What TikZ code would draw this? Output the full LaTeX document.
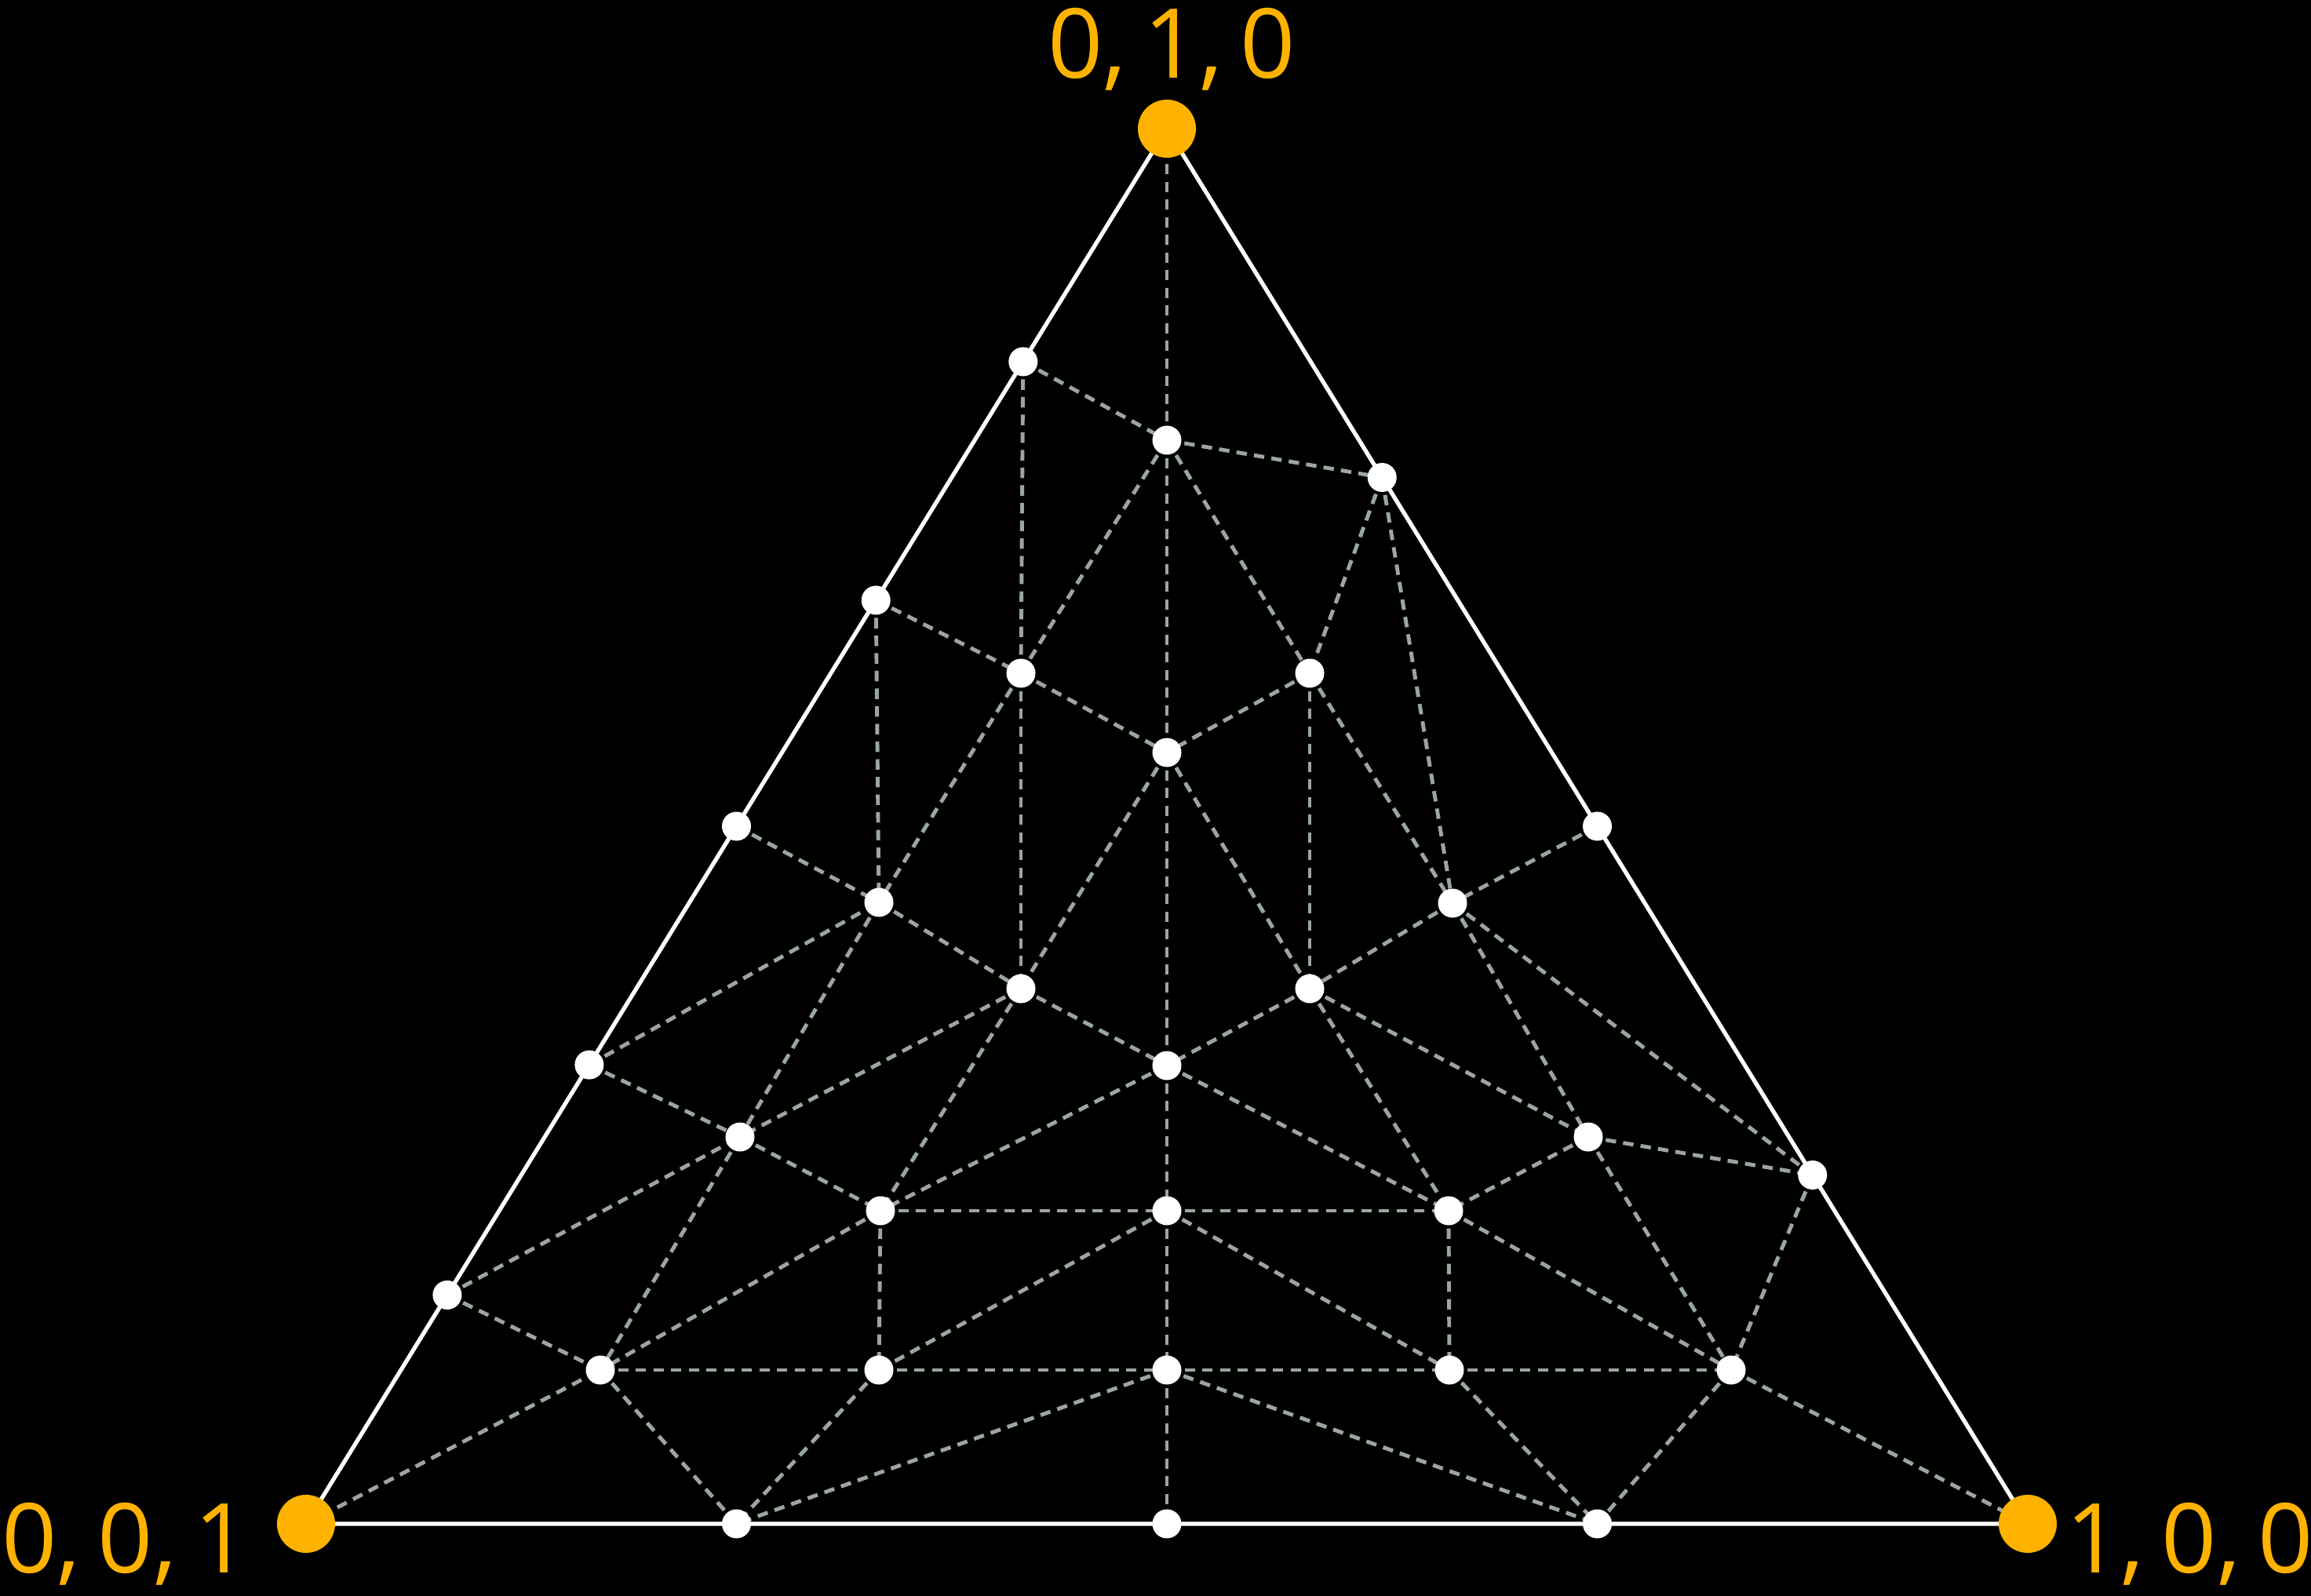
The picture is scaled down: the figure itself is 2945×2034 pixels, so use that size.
\documentclass[tikz,border=0pt]{standalone}
\usepackage{fontspec}
\setmainfont{Open Sans}
\usepackage{xcolor}
\usetikzlibrary{calc}
\definecolor{myorange}{RGB}{255,179,0}
\definecolor{mygray}{RGB}{155,165,165}

\tikzset{
  side/.style={draw=white, line width=1.5pt},
  mesh/.style={draw=mygray, line width=1.4pt, dash pattern=on 3.8pt off 2.6pt},
  dot/.style={fill=white},
  vtx/.style={fill=myorange},
  vlabel/.style={text=myorange, inner sep=0pt, anchor=base,
    font={\fontsize{35}{42}\selectfont\spaceskip=0.18em\relax}},
}

\begin{document}
\begin{tikzpicture}[x=0.01cm, y=-0.01cm]
\fill[black] (0,0) rectangle (2945,2034);
\useasboundingbox (0,0) rectangle (2945,2034);

% corners
\coordinate (T) at (1487,164);
\coordinate (L) at (390,1942);
\coordinate (R) at (2584,1942);

% points on the sides
\coordinate (e1) at ($(T)!0.167!(L)$);
\coordinate (e2) at ($(T)!0.338!(L)$);
\coordinate (e3) at ($(T)!0.500!(L)$);
\coordinate (e4) at ($(T)!0.671!(L)$);
\coordinate (e5) at ($(T)!0.836!(L)$);
\coordinate (r1) at ($(T)!0.25!(R)$);
\coordinate (r2) at ($(T)!0.5!(R)$);
\coordinate (r3) at ($(T)!0.75!(R)$);
\coordinate (b1) at ($(L)!0.25!(R)$);
\coordinate (b2) at ($(L)!0.5!(R)$);
\coordinate (b3) at ($(L)!0.75!(R)$);

% inner points
\foreach \n/\x/\y in {p1/1487/561, p2/1301/858, p3/1669/858, p4/1487/959,
  p5/1120/1150, p6/1851/1151, p7/1301/1260, p8/1669/1260, p9/1487/1358,
  p10/943/1449, p11/2024/1449, p12/1122/1543, p13/1487/1543, p14/1846/1543,
  p15/765/1746, p16/1120/1746, p17/1487/1746, p18/1847/1746, p19/2206/1746}
  \coordinate (\n) at (\x,\y);

\draw[side] (T) -- (L) -- (R) -- cycle;

\foreach \a/\b in {T/p1, p1/p4, p4/p9, p9/p13, p13/p17, p17/b2,
  e1/p1, e1/p2, p1/r1, p1/p2, p1/p3, r1/p3, r1/p6,
  e2/p2, e2/p5, p2/p4, p2/p5, p2/p7, p3/p4, p3/p6, p3/p8,
  p4/p7, p4/p8, e3/p5, e4/p5, p5/p10, p5/p7, r2/p6, p6/p8, p6/p11, p6/r3,
  p7/p9, p7/p10, p7/p12, p8/p9, p8/p11, p8/p14,
  e4/p10, e5/p10, p10/p12, p10/p15, p11/p14, p11/r3, p11/p19,
  p9/p12, p9/p14, p12/p13, p13/p14, p12/p16, p14/p18, p12/p15,
  p13/p16, p13/p18, p14/p19, r3/p19,
  e5/p15, p15/p16, p16/p17, p17/p18, p18/p19,
  L/p15, p15/b1, p16/b1, p17/b1, p17/b3, p18/b3, p19/b3, p19/R}
  \draw[mesh] (\a) -- (\b);

\foreach \n in {e1,e2,e3,e4,e5,r1,r2,r3,b1,b2,b3,
  p1,p2,p3,p4,p5,p6,p7,p8,p9,p10,p11,p12,p13,p14,p15,p16,p17,p18,p19}
  \fill[dot] (\n) circle (18.5);

\foreach \n in {T,L,R}
  \fill[vtx] (\n) circle (37);

\node[vlabel] (tl) at (1493,100) {0, 1, 0};
\node[vlabel] (ll) at (160,2004) {0, 0, 1};
\node[vlabel] (rl) at (2790,2004) {1, 0, 0};
\end{tikzpicture}
\end{document}
